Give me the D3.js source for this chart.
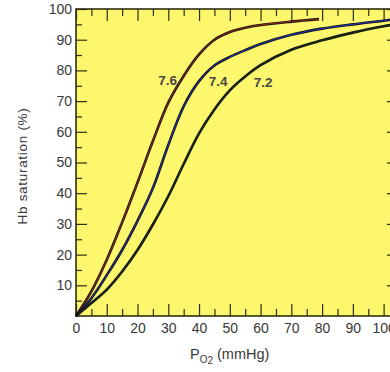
<!DOCTYPE html>
<html><head><meta charset="utf-8">
<script src="https://cdn.jsdelivr.net/npm/d3@7"></script>
<style>
html,body{margin:0;padding:0;background:#fff;}
svg{display:block;}
text{font-family:"Liberation Sans",Arial,Helvetica,sans-serif;}
</style></head>
<body>
<svg id="chart" width="390" height="372"></svg>
<script>
// ---- data ----
const pO2_76 = [0, 5, 10, 15, 20, 25, 30, 35, 40, 45, 50, 55, 60, 70, 79];
const sat_76 = [0, 8, 18.3, 30.5, 43.5, 57, 69.5, 78.2, 85.2, 90, 92.5, 93.9, 94.8, 95.9, 96.7];
const pO2_74 = [0, 5, 10, 15, 20, 25, 30, 35, 40, 45, 50, 55, 60, 70, 80, 90, 100, 105];
const sat_74 = [0, 5.8, 13.3, 21.5, 31, 41.7, 55.7, 68.3, 76.5, 81.6, 84.4, 86.6, 88.6, 91.6, 93.6, 95, 96.2, 96.8];
const pO2_72 = [0, 5, 10, 15, 20, 25, 30, 35, 40, 45, 50, 55, 60, 70, 80, 90, 100, 105];
const sat_72 = [0, 4.2, 8.6, 14.5, 21.5, 29.8, 39, 49.5, 59.5, 67.3, 73.5, 78, 81.7, 86.7, 89.8, 92.3, 94.4, 95.2];
const curveLabels = ["7.6", "7.4", "7.2"];
const xTickValues = [0, 10, 20, 30, 40, 50, 60, 70, 80, 90, 100];
const yTickValues = [10, 20, 30, 40, 50, 60, 70, 80, 90, 100];

// ---- layout ----
const svg = d3.select("#chart");
const mLeft = 76, mTop = 9, mBottom = 316, mRight = 399;
const x = d3.scaleLinear().domain([0, 105]).range([mLeft, mRight]);
const y = d3.scaleLinear().domain([0, 100]).range([mBottom, mTop]);
const borderCol = "#2e2e12";
const textCol = "#383838";

svg.append("rect").attr("x", mLeft).attr("y", mTop)
  .attr("width", mRight - mLeft).attr("height", mBottom - mTop)
  .attr("fill", "#fcf76d");

const minorX = d3.range(5, 105, 10);
const minorY = d3.range(5, 100, 10);

// bottom axis
const gB = svg.append("g").attr("transform", `translate(0,${mBottom})`)
  .call(d3.axisBottom(x).tickValues(xTickValues).tickSize(-12).tickPadding(7).tickFormat(d3.format("d")));
gB.append("g").call(d3.axisBottom(x).tickValues(minorX).tickSize(-7).tickFormat(""));
// top axis
const gT = svg.append("g").attr("transform", `translate(0,${mTop})`)
  .call(d3.axisTop(x).tickValues(xTickValues).tickSize(-12).tickFormat(""));
gT.append("g").call(d3.axisTop(x).tickValues(minorX).tickSize(-7).tickFormat(""));
// left axis
const gL = svg.append("g").attr("transform", `translate(${mLeft},0)`)
  .call(d3.axisLeft(y).tickValues(yTickValues).tickSize(-11).tickPadding(4).tickFormat(d3.format("d")));
gL.append("g").call(d3.axisLeft(y).tickValues(minorY).tickSize(-6).tickFormat(""));
// right axis
const gR = svg.append("g").attr("transform", `translate(${mRight},0)`)
  .call(d3.axisRight(y).tickValues(yTickValues).tickSize(-12).tickFormat(""));
gR.append("g").call(d3.axisRight(y).tickValues(minorY).tickSize(-6).tickFormat(""));

svg.selectAll(".domain").remove();
svg.selectAll(".tick line").attr("stroke", borderCol).attr("stroke-width", 1.2);
svg.selectAll(".tick text").attr("fill", textCol).attr("font-size", 14)
  .attr("font-family", '"Liberation Sans",Arial,sans-serif');

// border
svg.append("rect").attr("x", mLeft).attr("y", mTop)
  .attr("width", mRight - mLeft).attr("height", mBottom - mTop)
  .attr("fill", "none").attr("stroke", borderCol).attr("stroke-width", 1.6);

// curves
const series = [
  {xs: pO2_76, ys: sat_76, core: "#9a2a1a"},
  {xs: pO2_74, ys: sat_74, core: "#2236b8"},
  {xs: pO2_72, ys: sat_72, core: "#1d3312"}
];
const line = d3.line().x(d => x(d[0])).y(d => y(d[1])).curve(d3.curveCatmullRom.alpha(0.5));
const gC = svg.append("g");
series.forEach(s => {
  const pts = s.xs.map((v, i) => [v, s.ys[i]]);
  gC.append("path").attr("d", line(pts)).attr("fill", "none")
    .attr("stroke", "#111").attr("stroke-width", 2.6);
  gC.append("path").attr("d", line(pts)).attr("fill", "none")
    .attr("stroke", s.core).attr("stroke-width", 1);
});

// curve labels
const labelPos = [[29.8, 75.3], [46.2, 75], [60.8, 74.5]];
curveLabels.forEach((t, i) => {
  svg.append("text").attr("x", x(labelPos[i][0])).attr("y", y(labelPos[i][1]))
    .attr("text-anchor", "middle").attr("font-size", 13.5).attr("font-weight", "bold")
    .attr("fill", "#474747").text(t);
});

// axis titles
const xt = svg.append("text").attr("x", 190).attr("y", 359)
  .attr("font-size", 14.5).attr("fill", textCol);
xt.append("tspan").text("P");
xt.append("tspan").attr("font-size", 10).attr("dy", 4).text("O");
xt.append("tspan").attr("font-size", 10).attr("dy", 1).text("2");
xt.append("tspan").attr("dy", -5).text(" (mmHg)");

svg.append("text").attr("transform", "translate(27,166) rotate(-90)")
  .attr("text-anchor", "middle").attr("font-size", 13.5).attr("letter-spacing", 0.7)
  .attr("fill", textCol).text("Hb saturation (%)");
</script>
</body></html>
